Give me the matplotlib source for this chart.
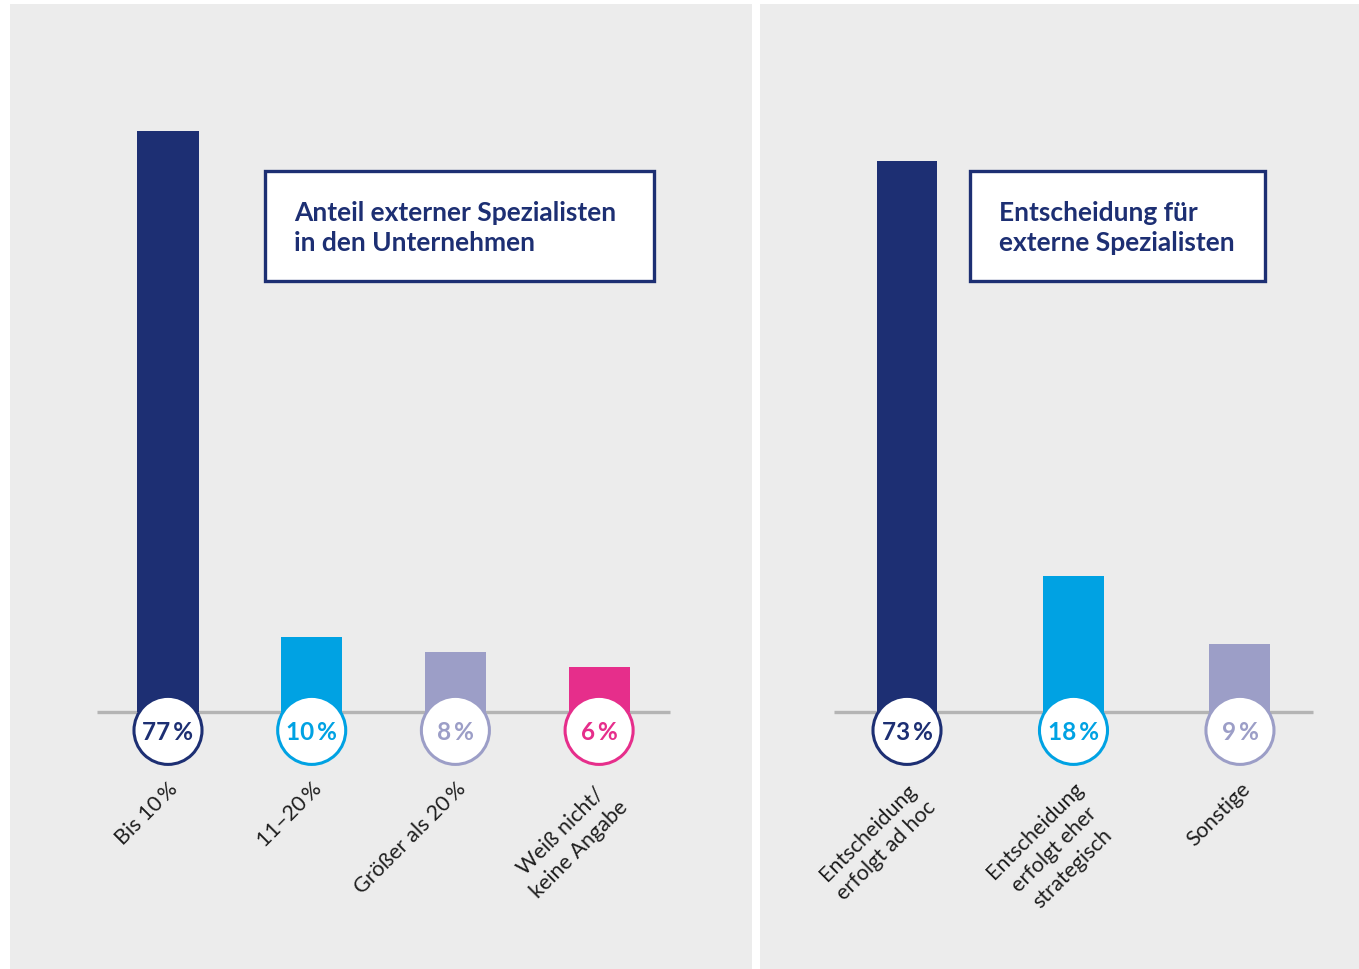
import matplotlib.pyplot as plt
from matplotlib.patches import Rectangle

# Data
left_labels = ['Bis 10\u2009%', '11–20\u2009%', 'Größer als 20\u2009%', 'Weiß nicht/\nkeine Angabe']
left_values = [77, 10, 8, 6]
right_labels = ['Entscheidung\nerfolgt ad hoc', 'Entscheidung\nerfolgt eher\nstrategisch', 'Sonstige']
right_values = [73, 18, 9]
left_title = 'Anteil externer Spezialisten\nin den Unternehmen'
right_title = 'Entscheidung für\nexterne Spezialisten'

NAVY = '#1d2f73'
CYAN = '#00a2e3'
LAVENDER = '#9c9ec7'
PINK = '#e62e8b'
BG = '#ececec'
LINE = '#b4b4b4'
TXT = '#1e1e1e'
left_colors = [NAVY, CYAN, LAVENDER, PINK]
right_colors = [NAVY, CYAN, LAVENDER]

plt.rcParams['font.family'] = ['Lato', 'DejaVu Sans']

W, H = 1359, 970
fig = plt.figure(figsize=(W / 100, H / 100), dpi=100, facecolor='white')


def px_axes(x0, x1, y_top, y_bot):
    return fig.add_axes([x0 / W, 1 - y_bot / H, (x1 - x0) / W, (y_bot - y_top) / H])


def panel(ax, labels, values, colors, xlim, line_span, bar_w):
    ax.set_facecolor(BG)
    ax.set_xlim(*xlim)
    ax.set_ylim(-34.0, 93.8)
    for s in ax.spines.values():
        s.set_visible(False)
    ax.set_xticks([])
    ax.set_yticks([])
    x = list(range(len(values)))
    ax.plot(line_span, [0, 0], color=LINE, lw=2.4, zorder=1, solid_capstyle='butt')
    ax.bar(x, values, width=bar_w, color=colors, zorder=2)
    ax.scatter(x, [-2.4] * len(x), s=2400, facecolor='white', edgecolor=colors,
               linewidths=2.2, zorder=3)
    for xi, v, c in zip(x, values, colors):
        ax.text(xi, -2.5, f'{v}\u2009%', ha='center', va='center', fontsize=17.5,
                fontweight='bold', color=c, zorder=4)
    for xi, lab in zip(x, labels):
        ax.text(xi, -8.7, lab, rotation=45, rotation_mode='anchor',
                ha='right', va='top', multialignment='center', fontsize=15.5,
                color=TXT, linespacing=1.4)


axl = px_axes(10, 752, 5, 970)
panel(axl, left_labels, left_values, left_colors, (-1.0995, 4.064), [-0.494, 3.493], 0.425)
axr = px_axes(760, 1359, 5, 970)
panel(axr, right_labels, right_values, right_colors, (-0.883, 2.715), [-0.438, 2.438], 0.366)


def title_box(x0, x1, y0, y1, text):
    fig.patches.append(Rectangle((x0 / W, 1 - y1 / H), (x1 - x0) / W, (y1 - y0) / H,
                                 transform=fig.transFigure, facecolor='white',
                                 edgecolor=NAVY, linewidth=2.4, zorder=5))
    fig.text((x0 + 29) / W, 1 - (y0 + 29) / H, text, ha='left', va='top',
             fontsize=19, fontweight='bold', color=NAVY, linespacing=1.32, zorder=6)


title_box(265, 654, 172, 282, left_title)
title_box(970, 1265, 172, 282, right_title)

fig.savefig('out.png', dpi=100, facecolor='white')
